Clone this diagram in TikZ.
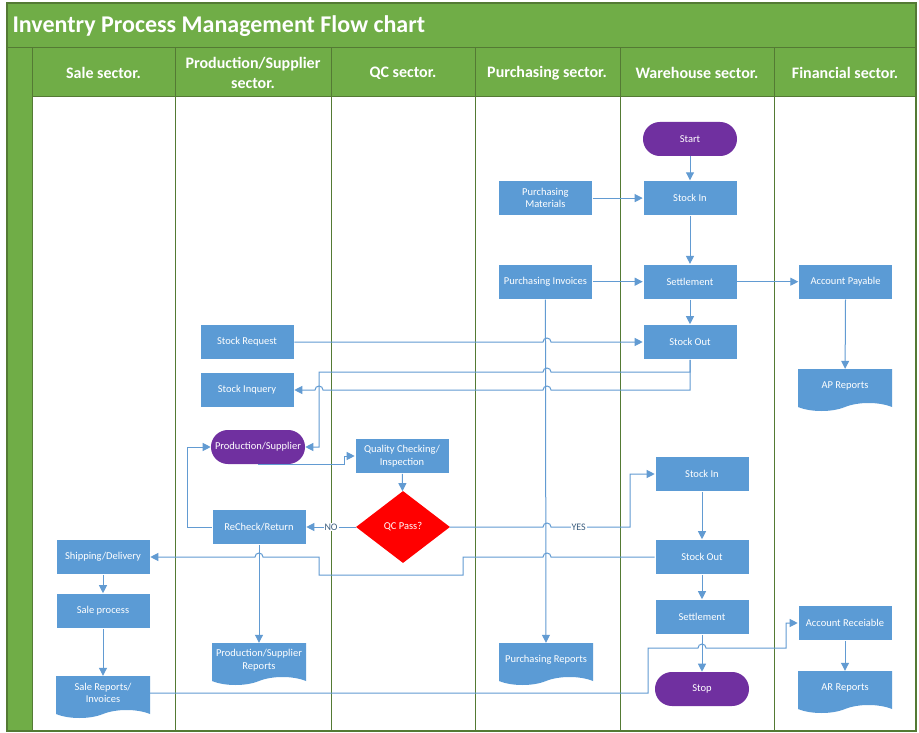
\documentclass[tikz,border=0pt]{standalone}
\usepackage{fontspec}
\setmainfont{Carlito}
\usetikzlibrary{shapes.geometric,shapes.symbols,arrows.meta,positioning}
\definecolor{verdeFaixa}{RGB}{112,173,71}
\definecolor{verdeBorda}{RGB}{84,122,52}
\definecolor{azulCaixa}{RGB}{91,155,213}
\definecolor{azulLinha}{RGB}{98,155,210}
\definecolor{roxoTerminal}{RGB}{112,48,160}
\tikzset{
  processo/.style={rectangle, fill=azulCaixa, draw=white, line width=0.6pt,
                   minimum width=94pt, minimum height=35pt, inner sep=1pt,
                   align=center, text=white, font=\fontsize{10.5}{12.5}\selectfont},
  terminal/.style={processo, fill=roxoTerminal, draw=none, rounded corners=16.9pt,
                   minimum height=34pt},
  documento/.style={tape, tape bend top=none, tape bend bottom=in and out,
                    tape bend height=8pt, fill=azulCaixa, minimum width=94pt,
                    minimum height=42pt, inner sep=1pt, align=center, text=white,
                    font=\fontsize{10.5}{12.5}\selectfont},
  decisao/.style={diamond, fill=red, minimum width=94pt, minimum height=72pt,
                  inner sep=0pt, text=white, font=\fontsize{10.5}{12.5}\selectfont},
  seta/.style={-{Triangle[length=8pt,width=8pt]}, line width=1pt, azulLinha},
  cabeca/.style={text=white, font=\fontsize{16}{20}\selectfont\bfseries, align=center},
  raia/.style={verdeBorda, line width=1pt},
  rotulo/.style={fill=white, inner sep=1pt, text=azulLinha!60!black,
                 font=\fontsize{10}{11}\selectfont},
}
\begin{document}
\begin{tikzpicture}[x=1pt, y=-1pt]
  \useasboundingbox[fill=white] (0,0) rectangle (919,733);
  % moldura e raias
  \fill[verdeFaixa] (7,3) rectangle (916,97);
  \fill[verdeFaixa] (7,97) rectangle (32,731);
  \draw[raia] (7,48) -- (916,48);
  \draw[raia] (32,97) -- (916,97);
  \foreach \xr in {32,175,331,475,620,774}
    \draw[raia] (\xr,48) -- (\xr,731);
  \draw[raia, line width=1.4pt] (7,3) rectangle (916,731);
  \node[anchor=west, text=white, font=\fontsize{24}{28}\selectfont\bfseries] (titulo) at (9,26)
       {Inventry Process Management Flow chart};
  \node[cabeca] (hsale) at (103.5,73) {Sale sector.};
  \node[cabeca] (hprod) at (253,73) {Production/Supplier\\sector.};
  \node[cabeca] (hqc) at (403,73) {QC sector.};
  \node[cabeca] (hpur) at (547,73) {Purchasing sector.};
  \node[cabeca] (hware) at (697,73) {Warehouse sector.};
  \node[cabeca] (hfin) at (845,73) {Financial sector.};

  % armazem, compras e financeiro
  \node[terminal] (start) at (690,139) {Start};
  \node[processo, below=24pt of start] (sin1) {Stock In};
  \node[processo, left=50pt of sin1] (pmat) {Purchasing\\Materials};
  \node[processo, below=48pt of sin1] (set1) {Settlement};
  \node[processo, left=50pt of set1] (pinv) {Purchasing Invoices};
  \node[processo, right=61pt of set1] (apay) {Account Payable};
  \node[processo] (sout1) at (690,342) {Stock Out};
  \node[documento] (aprep) at (845,386) {AP Reports};
  \node[processo] (sreq) at (247,342) {Stock Request};
  \node[processo] (sinq) at (247,390) {Stock Inquery};
  \node[terminal] (prod) at (258,447) {Production/Supplier};
  \node[processo] (qchk) at (402,456) {Quality Checking/\\Inspection};
  \node[decisao] (qc) at (403,527) {QC Pass?};
  \node[processo] (rech) at (259,527) {ReCheck/Return};
  \node[processo] (sin2) at (702,474) {Stock In};
  \node[processo] (sout2) at (702,557) {Stock Out};
  \node[processo] (set2) at (702,617) {Settlement};
  \node[terminal] (stop) at (702,689) {Stop};
  \node[processo] (arec) at (845,623) {Account Receiable};
  \node[documento] (arrep) at (845,688) {AR Reports};
  \node[processo] (ship) at (103,557) {Shipping/Delivery};
  \node[processo] (sale) at (103,611) {Sale process};
  \node[documento] (srep) at (103,693) {Sale Reports/\\Invoices};
  \node[documento] (prep) at (259,660) {Production/Supplier\\Reports};
  \node[documento] (purrep) at (546,660) {Purchasing Reports};

  % ligacoes
  \draw[seta] (start) -- (sin1);
  \draw[seta] (pmat) -- (sin1);
  \draw[seta] (sin1) -- (set1);
  \draw[seta] (pinv) -- (set1);
  \draw[seta] (set1) -- (apay);
  \draw[seta] (set1) -- (sout1);
  \draw[seta] (apay) -- (aprep);
  \draw[seta] (pinv) -- (purrep);
  \draw[seta] (sreq) -- (543,342) arc (180:0:4pt) -- (sout1);
  \draw[seta] (sout1.south) -- (690,390) -- (551,390) arc (0:180:4pt)
              -- (323,390) arc (0:180:4pt) -- (sinq);
  \draw[seta] (sout1.south) -- (690,372) -- (551,372) arc (0:180:4pt)
              -- (319,372) -- (319,447) -- (prod);
  \draw[seta] (prod.south) -| (344,456) -- (qchk);
  \draw[seta] (qchk) -- (qc);
  \draw[seta] (qc) -- node[rotulo] {NO} (rech);
  \draw[seta] (qc.east) -- (543,527) arc (180:0:4pt)
              -- node[rotulo, pos=0.35] {YES} (630,527) -- (630,474) -- (sin2);
  \draw[seta] (rech.west) -- (187,527) -- (187,447) -- (prod);
  \draw[seta] (rech) -- (prep);
  \draw[seta] (sin2) -- (sout2);
  \draw[seta] (sout2) -- (set2);
  \draw[seta] (set2) -- (stop);
  \draw[seta] (sout2) -- (551,557) arc (0:180:4pt) -- (463,557) -- (463,575)
              -- (319,575) -- (319,557) -- (263,557) arc (0:180:4pt) -- (ship);
  \draw[seta] (ship) -- (sale);
  \draw[seta] (sale) -- (srep);
  \draw[seta] (srep.east) -| (648,648) -- (698,648) arc (180:0:4pt)
              -- (786,648) -- (786,623) -- (arec);
  \draw[seta] (arec) -- (arrep);
\end{tikzpicture}
\end{document}
